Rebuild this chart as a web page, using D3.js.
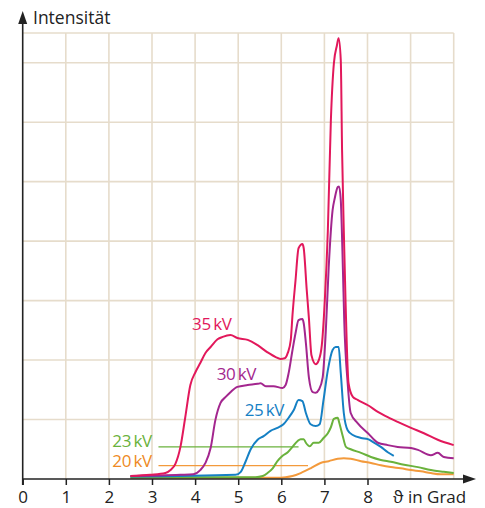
<!DOCTYPE html>
<html><head><meta charset="utf-8">
<script src="https://cdn.jsdelivr.net/npm/d3@7"></script>
<style>html,body{margin:0;padding:0;background:#fff;}svg{display:block;font-family:"Open Sans","Noto Sans",sans-serif;}</style>
</head><body>
<svg id="chart" width="485" height="508"></svg>
<script>
const xTicks = [0,1,2,3,4,5,6,7,8];
const gridX = [1,2,3,4,5,6,7,8,9,10];
const gridY = [1,2,3,4,5,6,7,7.5];
const series = ["35 kV","30 kV","25 kV","23 kV","20 kV"];
const kv35 = [[2.5,0.05],[2.96,0.07],[3.31,0.1],[3.43,0.15],[3.54,0.25],[3.66,0.54],[3.77,1.03],[3.89,1.58],[4.01,1.8],[4.12,1.95],[4.24,2.12],[4.36,2.22],[4.52,2.35],[4.64,2.39],[4.82,2.42],[4.98,2.37],[5.22,2.34],[5.45,2.25],[5.68,2.13],[5.87,2.05],[5.98,2.02],[6.08,2.03],[6.15,2.12],[6.22,2.34],[6.26,2.76],[6.33,3.34],[6.4,3.88],[6.49,3.95],[6.52,3.88],[6.59,3.18],[6.64,2.71],[6.7,2.08],[6.8,1.93],[6.87,2.0],[6.94,2.25],[7.01,3.01],[7.08,4.18],[7.15,6.03],[7.22,6.99],[7.29,7.29],[7.33,7.41],[7.38,7.04],[7.41,5.53],[7.45,4.18],[7.49,3.01],[7.56,1.61],[7.66,1.38],[7.77,1.33],[8.01,1.24],[8.24,1.13],[8.47,1.04],[8.7,0.96],[9.01,0.86],[9.31,0.77],[9.63,0.66],[10.0,0.57]];
const kv30 = [[2.5,0.05],[3.66,0.07],[3.96,0.08],[4.12,0.15],[4.24,0.27],[4.36,0.52],[4.47,0.99],[4.59,1.28],[4.71,1.38],[4.82,1.46],[4.98,1.55],[5.22,1.58],[5.45,1.6],[5.52,1.61],[5.64,1.56],[5.82,1.56],[6.03,1.53],[6.1,1.58],[6.17,1.78],[6.26,2.17],[6.33,2.45],[6.4,2.67],[6.49,2.69],[6.52,2.62],[6.57,2.29],[6.64,1.71],[6.73,1.46],[6.8,1.45],[6.87,1.5],[6.96,1.71],[7.03,2.45],[7.1,3.56],[7.19,4.52],[7.24,4.72],[7.31,4.91],[7.34,4.92],[7.38,4.69],[7.43,3.51],[7.46,2.67],[7.54,1.61],[7.61,1.11],[7.77,0.94],[8.01,0.77],[8.24,0.61],[8.47,0.57],[8.7,0.54],[9.01,0.52],[9.17,0.49],[9.47,0.4],[9.63,0.44],[9.77,0.37],[10.0,0.35]];
const kv25 = [[2.5,0.04],[4.94,0.07],[5.06,0.12],[5.17,0.29],[5.29,0.5],[5.45,0.66],[5.59,0.72],[5.75,0.81],[5.91,0.86],[6.05,0.92],[6.17,1.03],[6.29,1.16],[6.4,1.33],[6.49,1.31],[6.57,1.11],[6.68,0.92],[6.8,0.89],[6.89,0.92],[6.98,1.33],[7.08,1.83],[7.19,2.17],[7.26,2.22],[7.33,2.22],[7.38,1.78],[7.45,1.11],[7.54,0.82],[7.66,0.74],[7.85,0.69],[8.01,0.67],[8.15,0.61],[8.31,0.54],[8.47,0.45],[8.61,0.39]];
const kv23 = [[2.5,0.03],[5.4,0.03],[5.57,0.05],[5.68,0.1],[5.8,0.18],[5.91,0.3],[6.03,0.39],[6.15,0.45],[6.26,0.54],[6.38,0.64],[6.45,0.67],[6.52,0.67],[6.57,0.61],[6.66,0.55],[6.75,0.61],[6.87,0.61],[6.98,0.69],[7.08,0.77],[7.15,0.87],[7.22,1.01],[7.31,1.03],[7.34,0.96],[7.43,0.71],[7.5,0.54],[7.61,0.5],[7.85,0.44],[8.08,0.37],[8.31,0.32],[8.54,0.29],[8.85,0.24],[9.17,0.2],[9.47,0.15],[9.77,0.12],[10.0,0.1]];
const kv20 = [[2.5,0.02],[5.87,0.02],[6.1,0.03],[6.26,0.05],[6.45,0.1],[6.68,0.18],[6.91,0.27],[7.1,0.3],[7.31,0.34],[7.45,0.35],[7.61,0.34],[7.85,0.3],[8.08,0.27],[8.31,0.23],[8.54,0.2],[8.77,0.18],[9.01,0.15],[9.24,0.13],[9.47,0.1],[9.7,0.08],[10.0,0.08]];
// label anchors in data coords [theta, I]; leader lines for 23/20 kV [from, to, I]
const labelPos = [[3.93,2.5],[4.5,1.66],[5.15,1.06],[2.08,0.53],[2.08,0.2]];
const leaders = [null,null,null,[3.15,6.4,0.54],[3.15,6.62,0.225]];

const colors = ["#e2185b","#a3268e","#1580c4","#6ab23c","#f39a3c"];
const textColors = ["#e2185b","#a3268e","#1580c4","#6ab23c","#ee8a24"];
const data = [kv35,kv30,kv25,kv23,kv20];

const svg = d3.select("#chart");
const x = d3.scaleLinear().domain([0,10]).range([22.7,453.7]);
const y = d3.scaleLinear().domain([0,7.5]).range([479,33]);
const grid = "#e6dccb";

// grid
svg.append("g").selectAll("line").data(gridX).join("line")
  .attr("x1",d=>x(d)).attr("x2",d=>x(d)).attr("y1",y(0)).attr("y2",y(7.5))
  .attr("stroke",grid).attr("stroke-width",1.6);
svg.append("g").selectAll("line").data(gridY).join("line")
  .attr("x1",x(0)).attr("x2",x(10)).attr("y1",d=>y(d)).attr("y2",d=>y(d))
  .attr("stroke",grid).attr("stroke-width",1.6);

// leaders
leaders.forEach((l,i)=>{ if(!l) return;
  svg.append("line").attr("x1",x(l[0])).attr("x2",x(l[1])).attr("y1",y(l[2])).attr("y2",y(l[2]))
    .attr("stroke",colors[i]).attr("stroke-width",1.2);
});

// curves (draw bottom series first)
const line = d3.line().x(d=>x(d[0])).y(d=>y(d[1])).curve(d3.curveMonotoneX);
for(let i=data.length-1;i>=0;i--){
  svg.append("path").datum(data[i]).attr("d",line).attr("fill","none")
    .attr("stroke",colors[i]).attr("stroke-width",2).attr("stroke-linejoin","round");
}

// labels
series.forEach((s,i)=>{
  svg.append("text").attr("x",x(labelPos[i][0])).attr("y",y(labelPos[i][1]))
    .attr("fill",textColors[i]).attr("font-size",17).attr("letter-spacing",-0.4).text(s.replace(" ","\u2009"));
});

// x axis
const ax = svg.append("g").attr("transform",`translate(0,${y(0)})`)
  .call(d3.axisBottom(x).tickValues(xTicks).tickFormat(d3.format("d")).tickSize(6).tickPadding(6));
ax.select(".domain").remove();
ax.selectAll(".tick line").attr("stroke","#222").attr("stroke-width",1.5);
ax.selectAll(".tick text").attr("font-size",17).attr("fill","#222").attr("font-family","'Open Sans',sans-serif");
svg.append("line").attr("x1",x(0)).attr("x2",466).attr("y1",y(0)).attr("y2",y(0)).attr("stroke","#222").attr("stroke-width",1.6);
svg.append("path").attr("d",`M${476},${y(0)} L${463},${y(0)-4.5} L${463},${y(0)+4.5} Z`).attr("fill","#222");
svg.append("text").attr("x",393).attr("y",503).attr("font-size",17).attr("fill","#222").text("ϑ in Grad");

// y axis
svg.append("line").attr("x1",x(0)).attr("x2",x(0)).attr("y1",y(0)+6).attr("y2",20).attr("stroke","#222").attr("stroke-width",1.6);
svg.append("path").attr("d",`M${x(0)},11 L${x(0)-4.5},24 L${x(0)+4.5},24 Z`).attr("fill","#222");
svg.append("text").attr("x",33).attr("y",24).attr("font-size",17.5).attr("fill","#222").text("Intensität");
</script>
</body></html>
